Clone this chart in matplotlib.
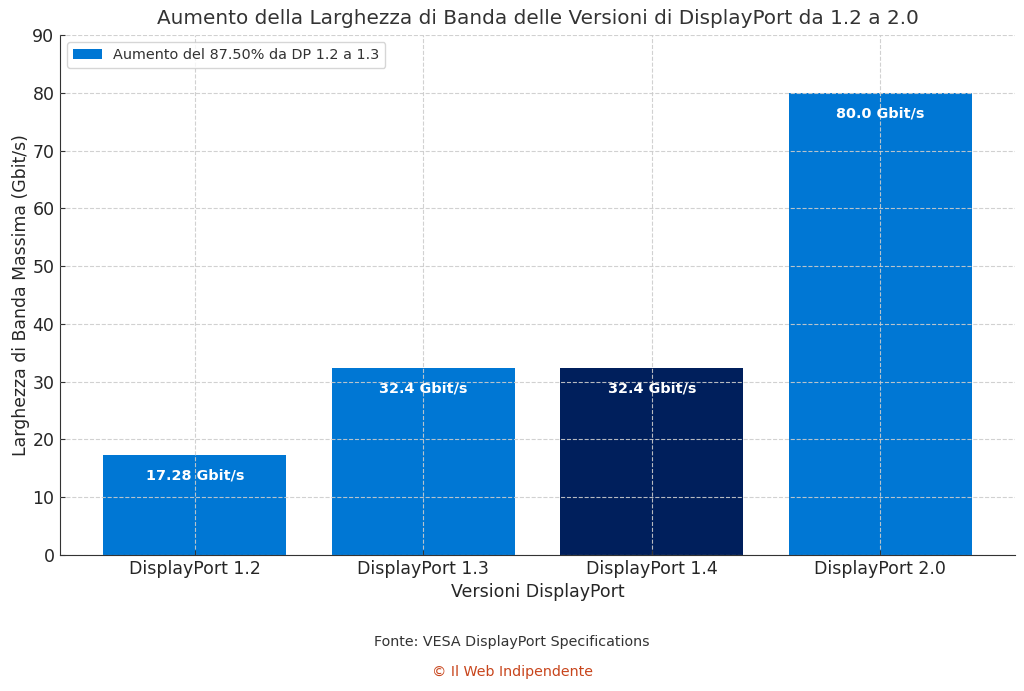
import matplotlib.pyplot as plt

# dati
versions = ['DisplayPort 1.2', 'DisplayPort 1.3', 'DisplayPort 1.4', 'DisplayPort 2.0']
bandwidth = [17.28, 32.4, 32.4, 80.0]
labels = ['17.28 Gbit/s', '32.4 Gbit/s', '32.4 Gbit/s', '80.0 Gbit/s']
colors = ['#0077D4', '#0077D4', '#001F5C', '#0077D4']
legend_text = 'Aumento del 87.50% da DP 1.2 a 1.3'

text_col = '#262626'

fig = plt.figure(figsize=(10.24, 6.91), dpi=100)
ax = fig.add_axes([0.0586, 0.197, 0.9326, 0.752])

bars = ax.bar(versions, bandwidth, color=colors, width=0.8, label=legend_text)

# etichette dentro le barre
for b, val, txt in zip(bars, bandwidth, labels):
    ax.text(b.get_x() + b.get_width() / 2, val - 3.5, txt, ha='center', va='center',
            color='white', fontsize=10.4, fontweight='bold')

ax.set_ylim(0, 90)
ax.set_yticks(range(0, 91, 10))
ax.tick_params(labelsize=12.5, direction='in', length=3.5, pad=4,
               colors='#333333', labelcolor=text_col)
ax.set_axisbelow(False)
ax.grid(True, linestyle='--', color='#cccccc', linewidth=0.8, alpha=0.9)
ax.spines['top'].set_visible(False)
ax.spines['right'].set_visible(False)
for s in ('left', 'bottom'):
    ax.spines[s].set_color('#333333')

ax.set_title('Aumento della Larghezza di Banda delle Versioni di DisplayPort da 1.2 a 2.0',
             fontsize=14.4, color='#333333', pad=8)
ax.set_xlabel('Versioni DisplayPort', fontsize=12.5, labelpad=3, color=text_col)
ax.set_ylabel('Larghezza di Banda Massima (Gbit/s)', fontsize=12.4, labelpad=2, color=text_col)

leg = ax.legend(handles=[bars[0]], labels=[legend_text], loc='upper left', fontsize=10.4)
for t in leg.get_texts():
    t.set_color('#333333')

fig.text(0.5, 0.071, 'Fonte: VESA DisplayPort Specifications', ha='center', va='center',
         fontsize=10.3, color='#333333')
fig.text(0.5, 0.027, '© Il Web Indipendente', ha='center', va='center',
         fontsize=10.3, color='#C8451C')

fig.savefig('out.png', dpi=100)
